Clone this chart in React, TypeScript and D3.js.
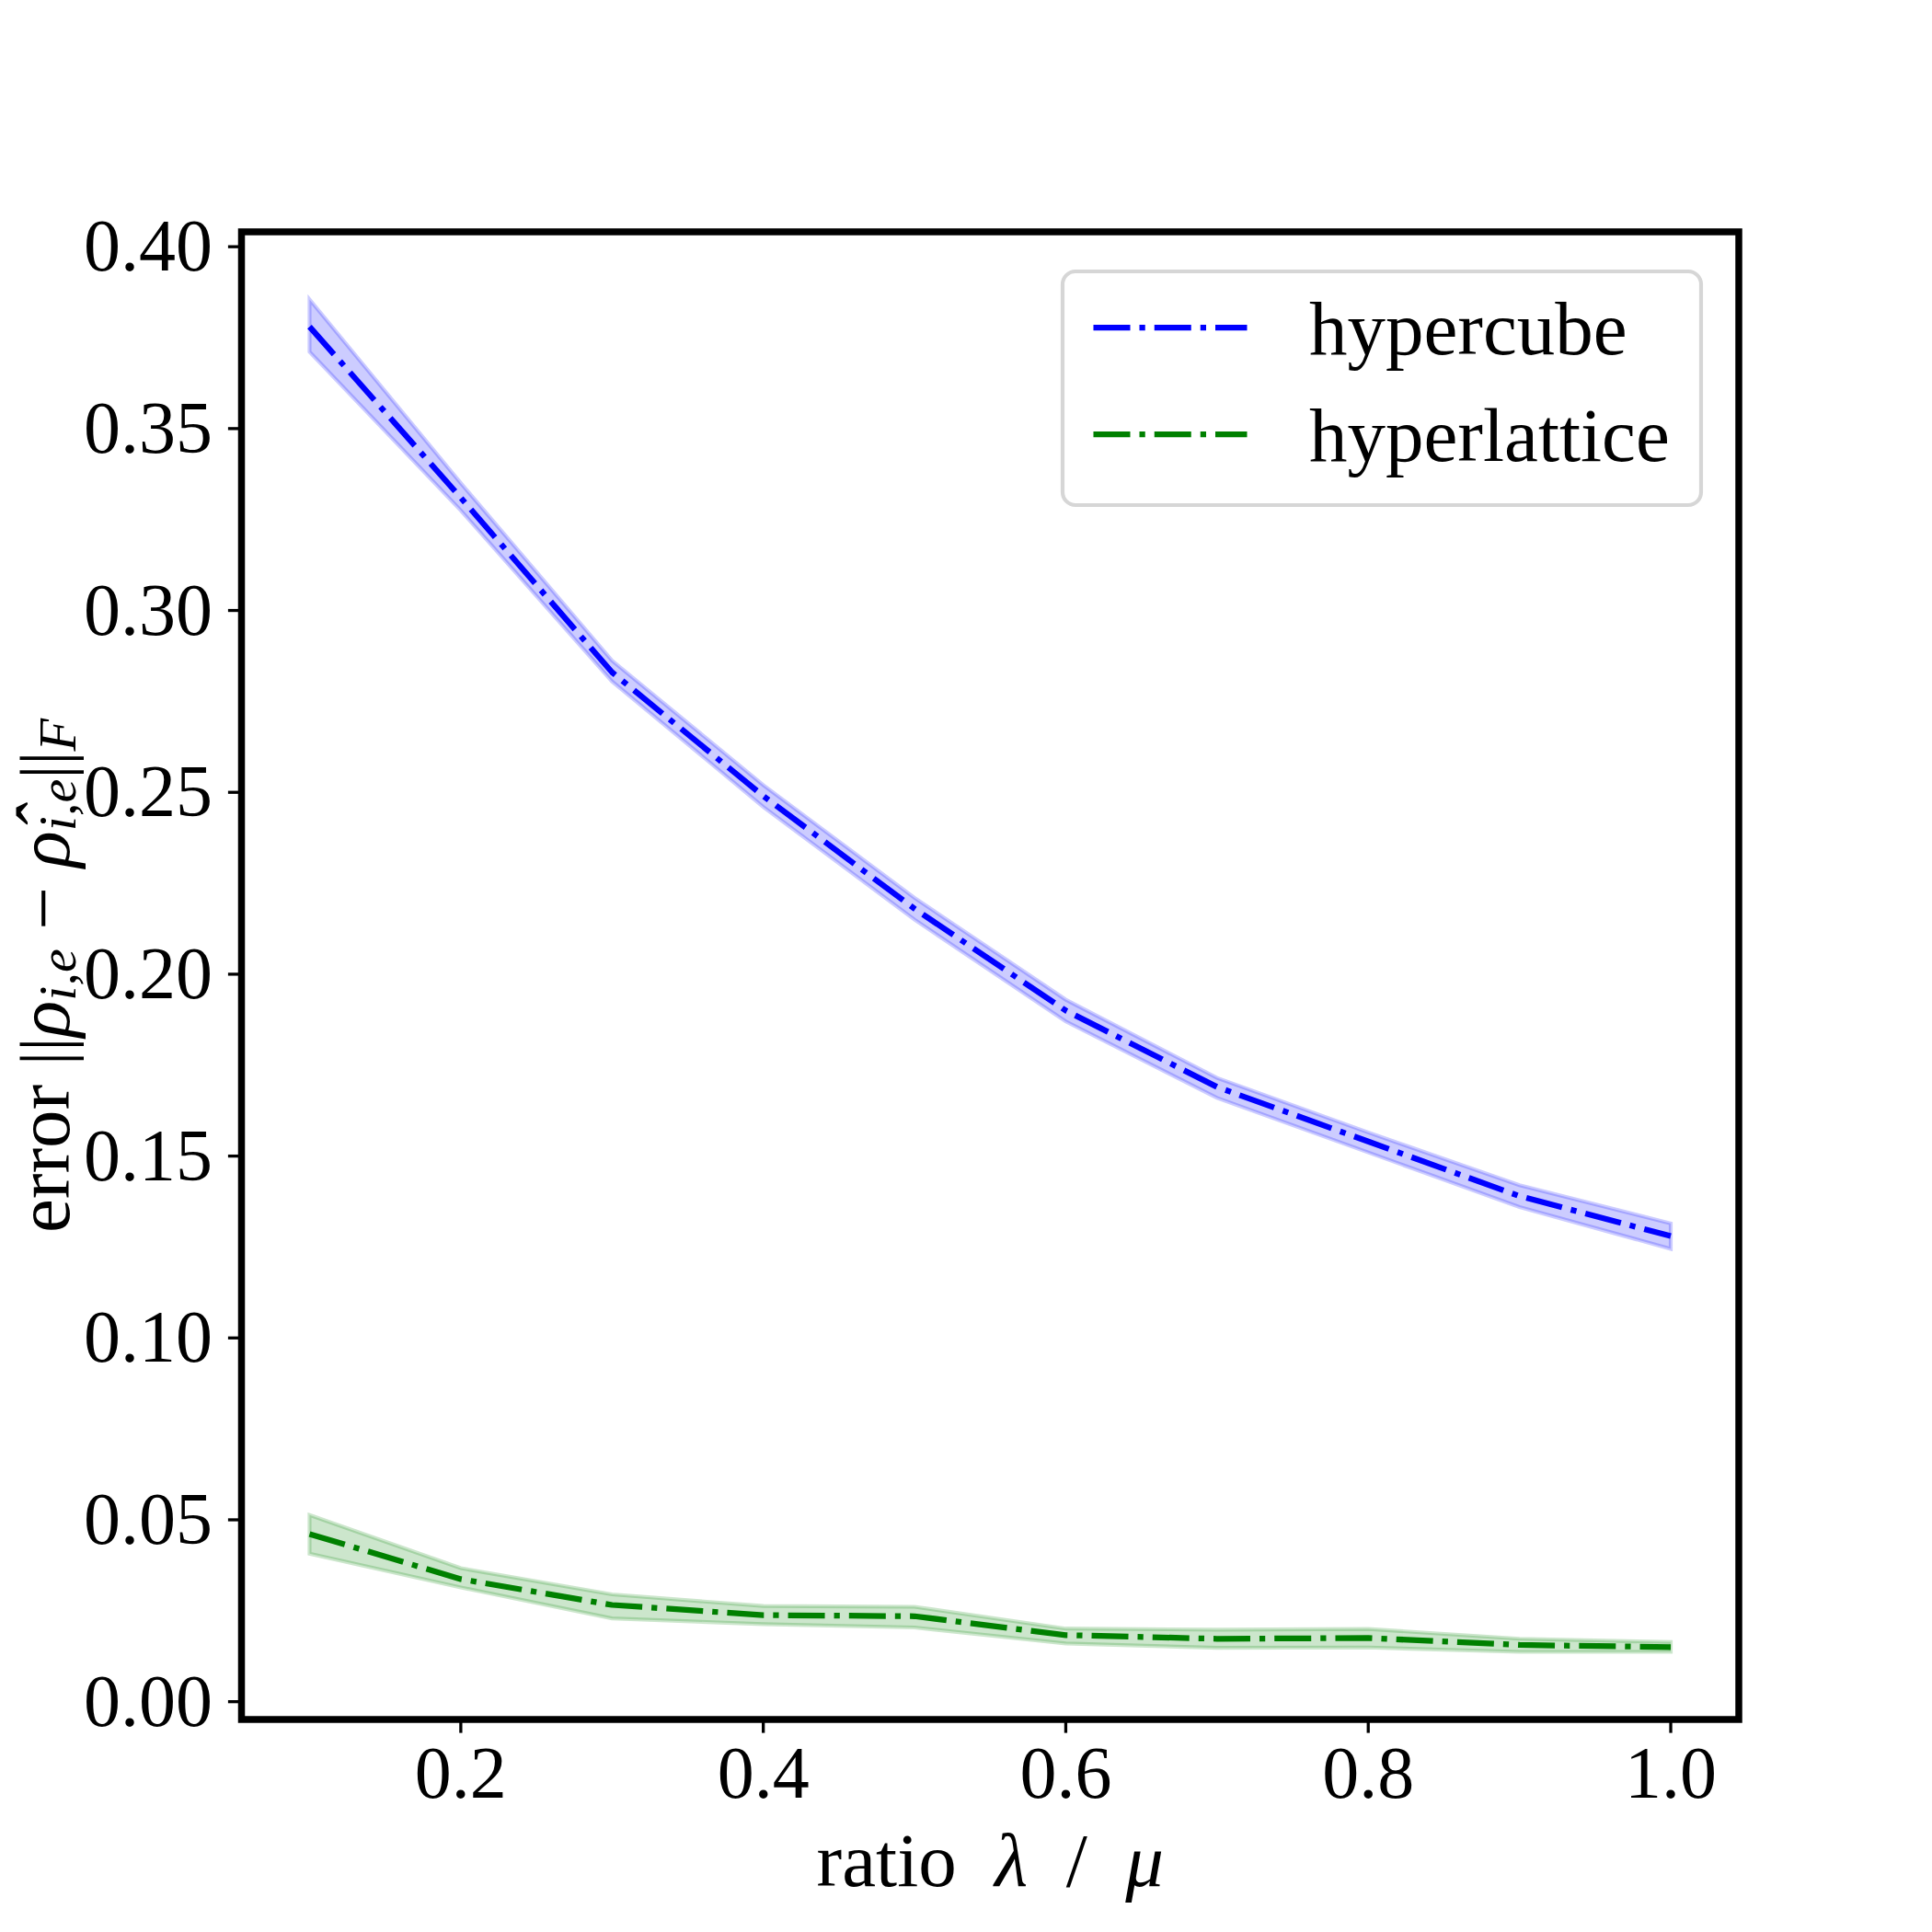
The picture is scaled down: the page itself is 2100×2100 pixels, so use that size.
import { useEffect, useRef } from 'react';
import * as d3 from 'd3';

// ratio lambda / mu on the x axis
const ratios = [0.1, 0.2, 0.3, 0.4, 0.5, 0.6, 0.7, 0.8, 0.9, 1.0];

// hypercube error: mean and band
const hypercubeMean = [0.378, 0.331, 0.283, 0.249, 0.218, 0.19, 0.169, 0.154, 0.139, 0.128];
const hypercubeLow = [0.3711, 0.3275, 0.2805, 0.246, 0.215, 0.187, 0.166, 0.151, 0.136, 0.1245];
const hypercubeHigh = [0.3855, 0.335, 0.2862, 0.252, 0.221, 0.193, 0.1715, 0.1565, 0.142, 0.1315];

// hyperlattice error: mean and band
const hyperlatticeMean = [0.0461, 0.0337, 0.0266, 0.0238, 0.0235, 0.0183, 0.0173, 0.0175, 0.0156, 0.015];
const hyperlatticeLow = [0.0407, 0.0314, 0.0229, 0.0213, 0.0204, 0.016, 0.0148, 0.0149, 0.0137, 0.0137];
const hyperlatticeHigh = [0.0513, 0.0367, 0.0295, 0.0263, 0.0261, 0.0201, 0.0198, 0.02, 0.0173, 0.0164];

const seriesNames = ['hypercube', 'hyperlattice'];
const seriesColors = ['#0000ff', '#008000'];

const xTicks = [0.2, 0.4, 0.6, 0.8, 1.0];
const yTicks = [0, 0.05, 0.1, 0.15, 0.2, 0.25, 0.3, 0.35, 0.4];

const FONT = '"Liberation Serif", "DejaVu Serif", serif';
const FS = 83; // 20pt at 300 dpi
const TICK_FS = 80;

export default function App() {
  const svgRef = useRef<SVGSVGElement>(null);

  useEffect(() => {
    document.body.style.margin = '0';
    if (!svgRef.current) return;
    const svg = d3.select(svgRef.current);
    svg.selectAll('*').remove();

    const left = 262.5;
    const right = 1890;
    const top = 252;
    const bottom = 1869;

    const series = [
      { name: seriesNames[0], color: seriesColors[0], mean: hypercubeMean, low: hypercubeLow, high: hypercubeHigh },
      { name: seriesNames[1], color: seriesColors[1], mean: hyperlatticeMean, low: hyperlatticeLow, high: hyperlatticeHigh },
    ];

    // matplotlib-like 5% margins
    const xMin = d3.min(ratios) as number;
    const xMax = d3.max(ratios) as number;
    const xPad = (xMax - xMin) * 0.05;
    const yMin = d3.min([...hypercubeLow, ...hyperlatticeLow]) as number;
    const yMax = d3.max([...hypercubeHigh, ...hyperlatticeHigh]) as number;
    const yPad = (yMax - yMin) * 0.05;

    const x = d3.scaleLinear().domain([xMin - xPad, xMax + xPad]).range([left, right]);
    const y = d3.scaleLinear().domain([yMin - yPad, yMax + yPad]).range([bottom, top]);

    const idx = d3.range(ratios.length);

    // bands
    series.forEach((s) => {
      const area = d3
        .area<number>()
        .x((i) => x(ratios[i]))
        .y0((i) => y(s.low[i]))
        .y1((i) => y(s.high[i]));
      svg
        .append('path')
        .attr('d', area(idx))
        .attr('fill', s.color)
        .attr('fill-opacity', 0.2)
        .attr('stroke', s.color)
        .attr('stroke-opacity', 0.2)
        .attr('stroke-width', 4.17);
    });

    // mean lines, dash-dot
    series.forEach((s) => {
      const line = d3
        .line<number>()
        .x((i) => x(ratios[i]))
        .y((i) => y(s.mean[i]));
      svg
        .append('path')
        .attr('d', line(idx))
        .attr('fill', 'none')
        .attr('stroke', s.color)
        .attr('stroke-width', 6.25)
        .attr('stroke-dasharray', '40 10 6.25 10')
        .attr('stroke-linejoin', 'round');
    });

    // ticks
    const tickLen = 14.6;
    xTicks.forEach((t) => {
      svg
        .append('line')
        .attr('x1', x(t))
        .attr('x2', x(t))
        .attr('y1', bottom)
        .attr('y2', bottom + tickLen)
        .attr('stroke', '#000')
        .attr('stroke-width', 3.3);
      svg
        .append('text')
        .attr('x', x(t))
        .attr('y', 1954)
        .attr('text-anchor', 'middle')
        .attr('font-family', FONT)
        .attr('font-size', TICK_FS)
        .text(d3.format('.1f')(t));
    });
    yTicks.forEach((t) => {
      svg
        .append('line')
        .attr('x1', left - tickLen)
        .attr('x2', left)
        .attr('y1', y(t))
        .attr('y2', y(t))
        .attr('stroke', '#000')
        .attr('stroke-width', 3.3);
      svg
        .append('text')
        .attr('x', 231)
        .attr('y', y(t) + 26)
        .attr('text-anchor', 'end')
        .attr('font-family', FONT)
        .attr('font-size', TICK_FS)
        .text(d3.format('.2f')(t));
    });

    // spines
    svg
      .append('rect')
      .attr('x', left)
      .attr('y', top)
      .attr('width', right - left)
      .attr('height', bottom - top)
      .attr('fill', 'none')
      .attr('stroke', '#000')
      .attr('stroke-width', 7.5);

    // x label
    const xl = svg
      .append('text')
      .attr('x', (left + right) / 2)
      .attr('y', 2050)
      .attr('text-anchor', 'middle')
      .attr('font-family', FONT)
      .attr('font-size', FS);
    xl.append('tspan').text('ratio\u2002');
    xl.append('tspan').attr('font-style', 'italic').text('λ');
    xl.append('tspan').text('\u2002/\u2002');
    xl.append('tspan').attr('font-style', 'italic').text('μ');

    // y label
    const yl = svg
      .append('text')
      .attr('transform', `translate(75,${(top + bottom) / 2}) rotate(-90)`)
      .attr('text-anchor', 'middle')
      .attr('font-family', FONT)
      .attr('font-size', FS);
    const sub = 7;
    yl.append('tspan').text('error ');
    yl.append('tspan').attr('font-size', 76).text('||');
    yl.append('tspan').attr('font-style', 'italic').text('ρ');
    yl.append('tspan').attr('font-style', 'italic').attr('font-size', 58).attr('dy', sub).text('i,e');
    yl.append('tspan').attr('dy', -sub).text(' − ');
    yl.append('tspan').attr('font-style', 'italic').text('ρ\u0302');
    yl.append('tspan').attr('font-style', 'italic').attr('font-size', 58).attr('dy', sub).text('i,e');
    yl.append('tspan').attr('font-size', 76).attr('dy', -sub).text('||');
    yl.append('tspan').attr('font-style', 'italic').attr('font-size', 58).attr('dy', sub).text('F');

    // legend
    const lg = svg.append('g');
    lg.append('rect')
      .attr('x', 1155)
      .attr('y', 295)
      .attr('width', 694)
      .attr('height', 254)
      .attr('rx', 14)
      .attr('fill', '#fff')
      .attr('fill-opacity', 0.8)
      .attr('stroke', '#cccccc')
      .attr('stroke-opacity', 0.8)
      .attr('stroke-width', 4.17);
    series.forEach((s, i) => {
      const ly = 356 + i * 116;
      lg.append('line')
        .attr('x1', 1188.5)
        .attr('x2', 1355.5)
        .attr('y1', ly)
        .attr('y2', ly)
        .attr('stroke', s.color)
        .attr('stroke-width', 6.25)
        .attr('stroke-dasharray', '40 10 6.25 10');
      lg.append('text')
        .attr('x', 1423)
        .attr('y', ly + 29)
        .attr('font-family', FONT)
        .attr('font-size', FS)
        .text(s.name);
    });
  }, []);

  return <svg ref={svgRef} width={2100} height={2100} viewBox="0 0 2100 2100" style={{ display: 'block', background: '#fff' }} />;
}
